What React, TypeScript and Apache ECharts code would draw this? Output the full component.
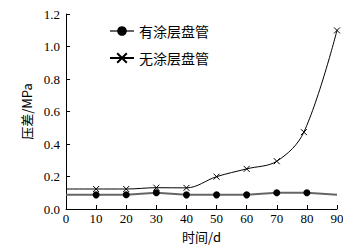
import React, { useEffect, useRef } from "react";
import * as echarts from "echarts";

const coatedX = [0, 10, 20, 30, 40, 50, 60, 70, 80, 90];
const coatedY = [0.087, 0.087, 0.088, 0.1, 0.087, 0.087, 0.087, 0.1, 0.1, 0.087];
const uncoatedX = [0, 10, 20, 30, 40, 50, 60, 70, 79, 90];
const uncoatedY = [0.123, 0.123, 0.123, 0.131, 0.13, 0.199, 0.247, 0.294, 0.473, 1.099];
const xTicks = [0, 10, 20, 30, 40, 50, 60, 70, 80, 90];
const yTicks = ["0.0", "0.2", "0.4", "0.6", "0.8", "1.0", "1.2"];
const seriesNames = ["有涂层盘管", "无涂层盘管"];

const crossPath = "path://M0,0L10,10M10,0L0,10";

export default function App() {
  const ref = useRef<HTMLDivElement>(null);
  useEffect(() => {
    if (!ref.current) return;
    const chart = echarts.init(ref.current, undefined, { renderer: "svg" });
    const serif = "'Liberation Serif', 'Times New Roman', serif";
    const cjk = "'Noto Sans CJK SC', sans-serif";
    const mk = (xs: number[], ys: number[], noSym: number[]) =>
      xs.map((x, i) =>
        noSym.includes(i) ? { value: [x, ys[i]], symbol: "none" } : { value: [x, ys[i]] }
      );
    chart.setOption({
      animation: false,
      grid: { left: 66, right: 14, top: 14, bottom: 39 },
      legend: {
        left: 104,
        top: 19,
        orient: "vertical",
        itemWidth: 24,
        itemHeight: 12,
        itemGap: 13,
        textStyle: { fontFamily: cjk, fontSize: 14, color: "#000" },
        data: seriesNames,
      },
      xAxis: {
        type: "value",
        min: 0,
        max: 90,
        interval: 10,
        name: "时间/d",
        nameLocation: "middle",
        nameGap: 20,
        nameTextStyle: { fontFamily: cjk, fontSize: 13, color: "#000" },
        axisLine: { show: true, lineStyle: { color: "#000", width: 1 } },
        axisTick: { show: true, inside: true, length: 4, lineStyle: { color: "#000" } },
        axisLabel: {
          fontFamily: serif,
          fontSize: 13,
          color: "#000",
          margin: 3,
          formatter: (v: number) => (xTicks.includes(v) ? String(v) : ""),
        },
        splitLine: { show: false },
      },
      yAxis: {
        type: "value",
        min: 0,
        max: 1.2,
        interval: 0.2,
        name: "压差/MPa",
        nameLocation: "middle",
        nameGap: 29,
        nameTextStyle: { fontFamily: cjk, fontSize: 13, color: "#000" },
        axisLine: { show: true, lineStyle: { color: "#000", width: 1 } },
        axisTick: { show: true, inside: true, length: 4, lineStyle: { color: "#000" } },
        axisLabel: {
          fontFamily: serif,
          fontSize: 13,
          color: "#000",
          margin: 6,
          formatter: (v: number) => yTicks[Math.round(v / 0.2)] ?? "",
        },
        splitLine: { show: false },
      },
      series: [
        {
          name: seriesNames[0],
          type: "line",
          data: mk(coatedX, coatedY, [0, 9]),
          symbol: "circle",
          symbolSize: 7,
          lineStyle: { color: "#666", width: 2 },
          itemStyle: { color: "#000" },
        },
        {
          name: seriesNames[1],
          type: "line",
          smooth: 0.35,
          data: mk(uncoatedX, uncoatedY, [0]),
          symbol: crossPath,
          symbolSize: 6,
          lineStyle: { color: "#000", width: 1 },
          itemStyle: { color: "#000", borderColor: "#000", borderWidth: 1 },
        },
      ],
    });
    return () => chart.dispose();
  }, []);
  return <div ref={ref} style={{ width: 351, height: 248, marginLeft: -8, marginTop: -8 }} />;
}
